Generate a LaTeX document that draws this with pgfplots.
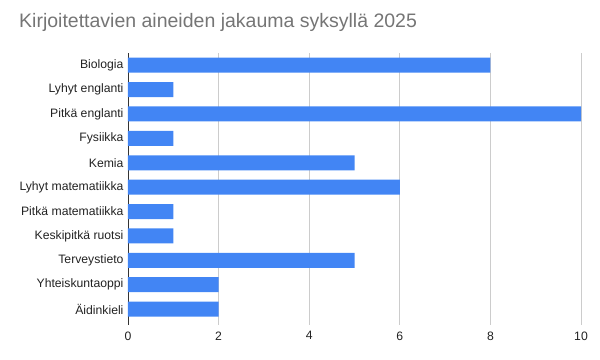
\documentclass[border=0pt]{standalone}
\usepackage{pgfplots}
\pgfplotsset{compat=1.18}
\usepackage{fontspec}
\setmainfont{Liberation Sans}
\definecolor{barblue}{HTML}{4285F4}
\definecolor{gridgray}{HTML}{CCCCCC}
\definecolor{titlegray}{HTML}{757575}
\definecolor{labelgray}{HTML}{222222}
\begin{document}
\begin{tikzpicture}
\useasboundingbox (0pt,0pt) rectangle (600pt,359pt);
\node[anchor=west, text=titlegray, font=\fontsize{19.5}{22}\selectfont, inner sep=0pt] at (19pt,337pt) {Kirjoitettavien aineiden jakauma syksyllä 2025};
\begin{axis}[
  at={(128pt,34pt)}, anchor=south west,
  scale only axis, width=453pt, height=272pt,
  xbar, bar width=15pt,
  xmin=0, xmax=10,
  ymin=-0.65, ymax=10.5,
  ytick={0,...,10},
  yticklabels={Äidinkieli,Yhteiskuntaoppi,Terveystieto,Keskipitkä ruotsi,Pitkä matematiikka,Lyhyt matematiikka,Kemia,Fysiikka,Pitkä englanti,Lyhyt englanti,Biologia},
  xtick={0,2,4,6,8,10},
  axis line style={draw=none},
  xmajorgrids, grid style={gridgray, line width=0.8pt},
  extra x ticks={0}, extra x tick labels={},
  extra x tick style={grid style={black!80, line width=0.9pt}},
  major tick length=0pt,
  tick label style={font=\fontsize{12.2}{14}\selectfont, text=labelgray},
  /pgf/number format/assume math mode=true,
  yticklabel style={xshift=-1pt},
  xticklabel style={yshift=-3pt},
  clip=false,
]
\addplot[fill=barblue, draw=none] coordinates {
(8,10) (1,9) (10,8) (1,7) (5,6) (6,5) (1,4) (1,3) (5,2) (2,1) (2,0)
};
\end{axis}
\end{tikzpicture}
\end{document}
